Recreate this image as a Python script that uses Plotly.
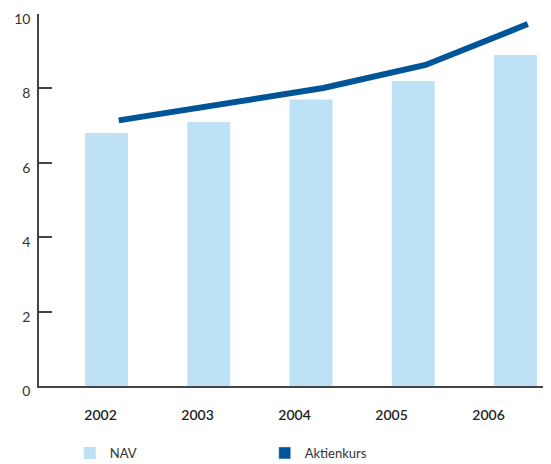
import plotly.graph_objects as go

years = [2002, 2003, 2004, 2005, 2006]
year_labels = ["2002", "2003", "2004", "2005", "2006"]
nav = [6.8, 7.1, 7.7, 8.2, 8.9]
aktienkurs = [7.14, 7.56, 8.01, 8.63, 9.73]
y_ticks = [0, 2, 4, 6, 8, 10]

LINE_SHIFT = 0.12
BAR_COLOR = "#BDE2F6"
LINE_COLOR = "#005599"

fig = go.Figure()
fig.add_trace(go.Bar(x=years, y=nav, name="NAV", marker=dict(color=BAR_COLOR, line=dict(width=0)),
                     width=0.42, showlegend=True))
fig.add_trace(go.Scatter(x=[y + LINE_SHIFT for y in years], y=aktienkurs, mode="lines",
                         line=dict(color=LINE_COLOR, width=6), showlegend=False, cliponaxis=False))
# legend swatch for line series (square like the reference) + carrier for label axis
fig.add_trace(go.Bar(x=[None], y=[None], name="Aktienkurs", marker=dict(color=LINE_COLOR),
                     xaxis="x2", showlegend=True))

# page body has an 8px default margin, so the figure is offset by 8px
fig.update_layout(
    width=551, height=464,
    margin=dict(l=31, r=8, t=6, b=86, autoexpand=False),
    plot_bgcolor="white", paper_bgcolor="white",
    barmode="overlay",
    font=dict(family="Lato, 'Open Sans', sans-serif", color="#333333"),
    xaxis=dict(range=[2001.34, 2006.347], showticklabels=False, ticks="", showgrid=False,
               zeroline=False, showline=True, linecolor="#444444", linewidth=1.5, automargin=False),
    xaxis2=dict(overlaying="x", range=[-0.634, 4.644], tickvals=list(range(len(year_labels))),
                ticktext=year_labels, side="bottom", showgrid=False, zeroline=False, showline=False,
                ticks="", tickfont=dict(size=14, color="#222222", weight=600), ticklabelstandoff=19,
                automargin=False),
    yaxis=dict(range=[0, 10], tickvals=y_ticks, showgrid=False, zeroline=False, showline=True,
               linecolor="#444444", linewidth=1.5, ticks="inside", ticklen=13, tickwidth=1.5,
               tickcolor="#444444", tickfont=dict(size=14, color="#333333"), ticklabelstandoff=4,
               ticklabelshift=5, ticklabeloverflow="allow", automargin=False),
    legend=dict(orientation="h", x=0.06, xanchor="left", y=-0.18, yanchor="middle",
                font=dict(size=13, color="#333333"), entrywidth=150, entrywidthmode="pixels",
                traceorder="normal"),
)

fig.write_html("out.html")
